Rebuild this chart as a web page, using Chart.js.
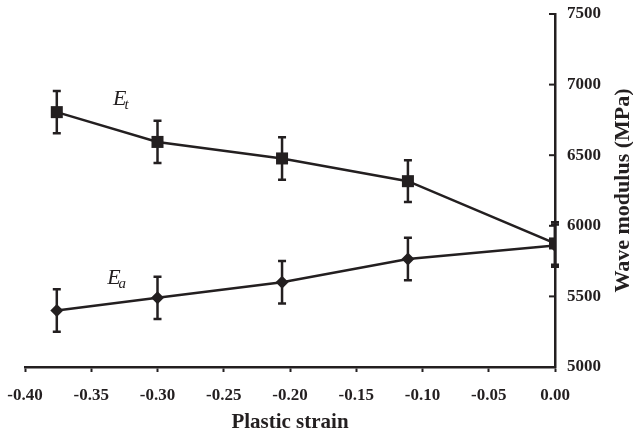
<!DOCTYPE html>
<html>
<head>
  <title>Wave modulus vs plastic strain</title>
  <script src="https://cdn.jsdelivr.net/npm/chart.js"></script>
  <style>
    html, body { margin: 0; padding: 0; background: #fff; }
    #wrap { width: 633px; height: 433px; }
  </style>
</head>
<body>
  <div id="wrap"><canvas id="modChart" width="633" height="433"></canvas></div>

  <script>
    // values
    const strain = [-0.376, -0.300, -0.206, -0.111, 0.000];
    const Et = [6805, 6594, 6477, 6316, 5875];
    const EtErr = [150, 150, 150, 148, 150];
    const Ea = [5400, 5490, 5600, 5765, 5860];
    const EaErr = [150, 150, 150, 150, 150];

    const xTicks = [-0.40, -0.35, -0.30, -0.25, -0.20, -0.15, -0.10, -0.05, 0.00];
    const yTicks = [5000, 5500, 6000, 6500, 7000, 7500];

    // where the series labels sit, in data units
    const seriesLabels = [
      { main: 'E', sub: 't', x: -0.3335, y: 6855 },
      { main: 'E', sub: 'a', x: -0.338, y: 5590 }
    ];

    const ink = '#231f20';
    const serif = '"Liberation Serif", "Times New Roman", serif';

    const toPts = (xs, ys) => xs.map((x, i) => ({ x, y: ys[i] }));

    // error bars, drawn under the markers
    const errorBars = {
      id: 'errorBars',
      beforeDatasetsDraw(chart) {
        const ctx = chart.ctx;
        const xs = chart.scales.x, ys = chart.scales.y;
        const sets = [[Et, EtErr], [Ea, EaErr]];
        ctx.save();
        ctx.strokeStyle = ink;
        ctx.lineWidth = 2.5;
        sets.forEach(([vals, errs]) => {
          vals.forEach((v, i) => {
            const px = xs.getPixelForValue(strain[i]);
            const top = ys.getPixelForValue(v + errs[i]);
            const bot = ys.getPixelForValue(v - errs[i]);
            ctx.beginPath();
            ctx.moveTo(px, top); ctx.lineTo(px, bot);
            ctx.moveTo(px - 4, top); ctx.lineTo(px + 4, top);
            ctx.moveTo(px - 4, bot); ctx.lineTo(px + 4, bot);
            ctx.stroke();
          });
        });
        ctx.restore();
      }
    };

    // inward ticks on the right axis, series labels and the rotated y title
    const extras = {
      id: 'extras',
      afterDraw(chart) {
        const ctx = chart.ctx;
        const xs = chart.scales.x, ys = chart.scales.y;
        const area = chart.chartArea;
        ctx.save();
        ctx.strokeStyle = ink;
        ctx.lineWidth = 2;
        yTicks.forEach(t => {
          const py = ys.getPixelForValue(t);
          ctx.beginPath();
          ctx.moveTo(area.right - 6, py);
          ctx.lineTo(area.right, py);
          ctx.stroke();
        });

        ctx.fillStyle = ink;
        ctx.textBaseline = 'alphabetic';
        ctx.textAlign = 'left';
        seriesLabels.forEach(l => {
          const px = xs.getPixelForValue(l.x);
          const py = ys.getPixelForValue(l.y);
          ctx.font = 'italic 22px ' + serif;
          ctx.fillText(l.main, px, py);
          const w = ctx.measureText(l.main).width;
          ctx.font = 'italic 15px ' + serif;
          ctx.fillText(l.sub, px + w - 2, py + 4);
        });

        ctx.translate(ys.right + 22, (area.top + area.bottom) / 2);
        ctx.rotate(-Math.PI / 2);
        ctx.textAlign = 'center';
        ctx.textBaseline = 'middle';
        ctx.font = 'bold 22px ' + serif;
        ctx.fillText('Wave modulus (MPa)', 0, 0);
        ctx.restore();
      }
    };

    new Chart(document.getElementById('modChart'), {
      type: 'line',
      data: {
        datasets: [
          {
            label: 'Et',
            data: toPts(strain, Et),
            borderColor: ink,
            backgroundColor: ink,
            borderWidth: 2.5,
            pointStyle: 'rect',
            pointRadius: 8.5,
            pointBorderWidth: 0,
            tension: 0
          },
          {
            label: 'Ea',
            data: toPts(strain, Ea),
            borderColor: ink,
            backgroundColor: ink,
            borderWidth: 2.5,
            pointStyle: 'rectRot',
            pointRadius: 6.5,
            pointBorderWidth: 0,
            tension: 0
          }
        ]
      },
      options: {
        responsive: false,
        animation: false,
        layout: { padding: { left: 25, right: 32, top: 14, bottom: 0 } },
        plugins: { legend: { display: false }, tooltip: { enabled: false } },
        scales: {
          x: {
            type: 'linear',
            position: 'bottom',
            min: -0.40,
            max: 0,
            afterBuildTicks: s => { s.ticks = xTicks.map(v => ({ value: v })); },
            afterFit: s => { s.height = 66; s.paddingLeft = 0; s.paddingRight = 0; },
            border: { color: ink, width: 2.5 },
            grid: { drawOnChartArea: false, tickLength: 5, tickWidth: 2, tickColor: ink },
            ticks: {
              color: ink,
              padding: 13,
              maxRotation: 0,
              font: { family: serif, size: 17, weight: 'bold' },
              callback: v => (Math.abs(v) < 1e-9 ? 0 : v).toFixed(2)
            },
            title: {
              display: true,
              text: 'Plastic strain',
              color: ink,
              padding: { top: -3, bottom: 0 },
              font: { family: serif, size: 21, weight: 'bold', lineHeight: 1 }
            }
          },
          y: {
            type: 'linear',
            position: 'right',
            min: 5000,
            max: 7500,
            afterBuildTicks: s => { s.ticks = yTicks.map(v => ({ value: v })); },
            afterFit: s => { s.width = 46; s.paddingTop = 0; s.paddingBottom = 0; },
            border: { color: ink, width: 2.5 },
            grid: { drawOnChartArea: false, drawTicks: false },
            ticks: {
              color: ink,
              padding: 12,
              font: { family: serif, size: 17, weight: 'bold' },
              callback: v => String(v)
            }
          }
        }
      },
      plugins: [errorBars, extras]
    });
  </script>
</body>
</html>
